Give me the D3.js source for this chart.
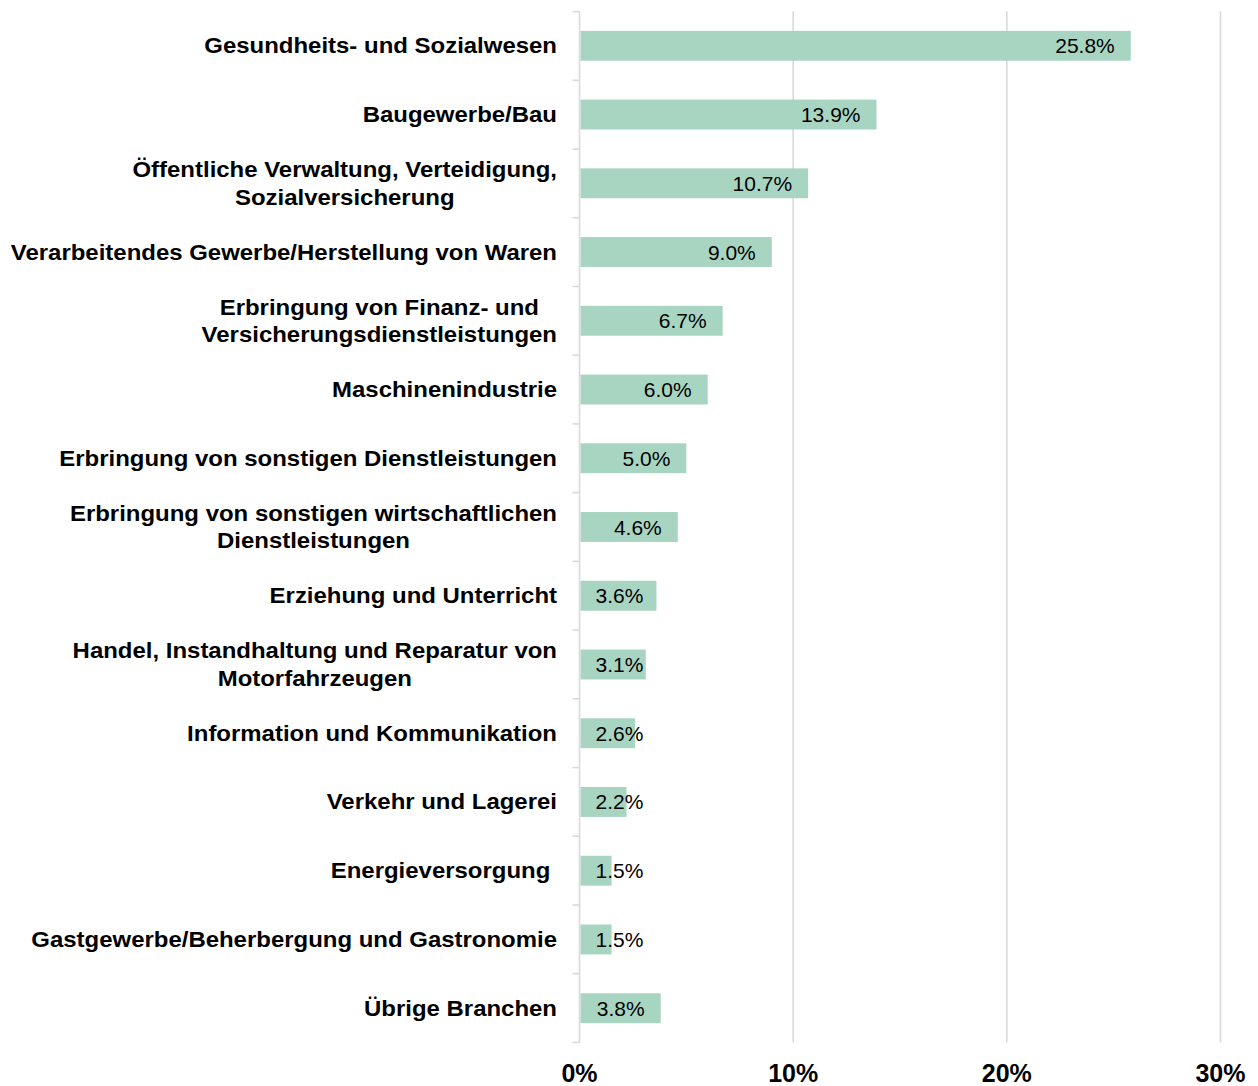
<!DOCTYPE html>
<html>
<head>
<meta charset="utf-8">
<script src="https://cdn.jsdelivr.net/npm/d3@7"></script>
<style>
  body { margin: 0; background: #fff; }
  svg { font-family: "Liberation Sans", Arial, sans-serif; }
</style>
</head>
<body>
<svg width="1258" height="1086"></svg>
<script>
// Kategorien (Zeilenumbruch mit "\n")
var categories = [
    "Gesundheits- und Sozialwesen",
    "Baugewerbe/Bau",
    "Öffentliche Verwaltung, Verteidigung,\nSozialversicherung",
    "Verarbeitendes Gewerbe/Herstellung von Waren",
    "Erbringung von Finanz- und\nVersicherungsdienstleistungen",
    "Maschinenindustrie",
    "Erbringung von sonstigen Dienstleistungen",
    "Erbringung von sonstigen wirtschaftlichen\nDienstleistungen",
    "Erziehung und Unterricht",
    "Handel, Instandhaltung und Reparatur von\nMotorfahrzeugen",
    "Information und Kommunikation",
    "Verkehr und Lagerei",
    "Energieversorgung ",
    "Gastgewerbe/Beherbergung und Gastronomie",
    "Übrige Branchen"
];
var values = [25.8, 13.9, 10.7, 9.0, 6.7, 6.0, 5.0, 4.6, 3.6, 3.1, 2.6, 2.2, 1.5, 1.5, 3.8];
var tick_values = [0, 10, 20, 30];

var data = categories.map(function(c, i){ return {name: c, value: values[i]}; });

var svg = d3.select("svg");
var x0 = 579.5, x1 = 1220.5, y0 = 11.6, y1 = 1042.4;

var x = d3.scaleLinear().domain([0, 30]).range([x0, x1]);
var y = d3.scaleBand().domain(categories).range([y0, y1]).paddingInner(0.565).paddingOuter(0.28);

var gridColor = "#d9d9d9";

// gridlines
svg.append("g").selectAll("line")
    .data(tick_values.filter(function(d){ return d > 0; }))
    .enter().append("line")
    .attr("x1", function(d){ return x(d); })
    .attr("x2", function(d){ return x(d); })
    .attr("y1", y0).attr("y2", y1)
    .attr("stroke", gridColor).attr("stroke-width", 1.6);

// bars
svg.append("g").selectAll("rect")
    .data(data)
    .enter().append("rect")
    .attr("x", x(0) + 1)
    .attr("y", function(d){ return y(d.name); })
    .attr("width", function(d){ return x(d.value) - x(0) - 1; })
    .attr("height", y.bandwidth())
    .attr("fill", "#a8d5c2");

// Kategorieachse + Teilstriche an den Bandgrenzen
var ax = svg.append("g");
ax.append("line")
    .attr("x1", x0).attr("x2", x0).attr("y1", y0).attr("y2", y1)
    .attr("stroke", gridColor).attr("stroke-width", 1.6);
var bounds = d3.range(categories.length + 1).map(function(i){ return y0 + i * (y1 - y0) / categories.length; });
ax.selectAll(".tk").data(bounds).enter().append("line")
    .attr("class", "tk")
    .attr("x1", x0 - 7).attr("x2", x0)
    .attr("y1", function(d){ return d; }).attr("y2", function(d){ return d; })
    .attr("stroke", gridColor).attr("stroke-width", 1.6);

// Kategorielabels (mehrzeilig zentriert, Block rechtsbündig)
var labelRight = 557;
var stretch = 1.115;
var lab = svg.append("g").selectAll("g")
    .data(data)
    .enter().append("g")
    .attr("transform", "translate(" + labelRight + ",0) scale(" + stretch + ",1)")
    .append("text")
    .attr("font-size", "21.5px")
    .attr("font-weight", "bold")
    .attr("fill", "#000")
    .attr("text-anchor", "middle")
    .style("white-space", "pre");
lab.each(function(d){
    var t = d3.select(this);
    var lines = d.name.split("\n");
    var cy = y(d.name) + y.bandwidth() / 2;
    var lh = 27.5;
    var spans = lines.map(function(l, i){
        return t.append("tspan").text(l)
            .attr("y", cy + 7.5 + (i - (lines.length - 1) / 2) * lh);
    });
    var w = d3.max(spans, function(s){ return s.node().getComputedTextLength(); });
    spans.forEach(function(s){ s.attr("x", -w / 2); });
});

// Datenbeschriftungen
svg.append("g").selectAll("text")
    .data(data)
    .enter().append("text")
    .attr("font-size", "21px")
    .attr("fill", "#000")
    .attr("text-anchor", "end")
    .attr("y", function(d){ return y(d.name) + y.bandwidth() / 2 + 7.5; })
    .text(function(d){ return d.value.toFixed(1) + "%"; })
    .attr("x", function(d){
        var w = this.getComputedTextLength();
        return Math.max(x(d.value) - 16, x(0) + 16 + w);
    });

// x-Achsenbeschriftung
svg.append("g").selectAll("text")
    .data(tick_values)
    .enter().append("text")
    .attr("font-size", "25px")
    .attr("font-weight", "bold")
    .attr("text-anchor", "middle")
    .attr("x", function(d){ return x(d); })
    .attr("y", 1082)
    .text(function(d){ return d + "%"; });
</script>
</body>
</html>
